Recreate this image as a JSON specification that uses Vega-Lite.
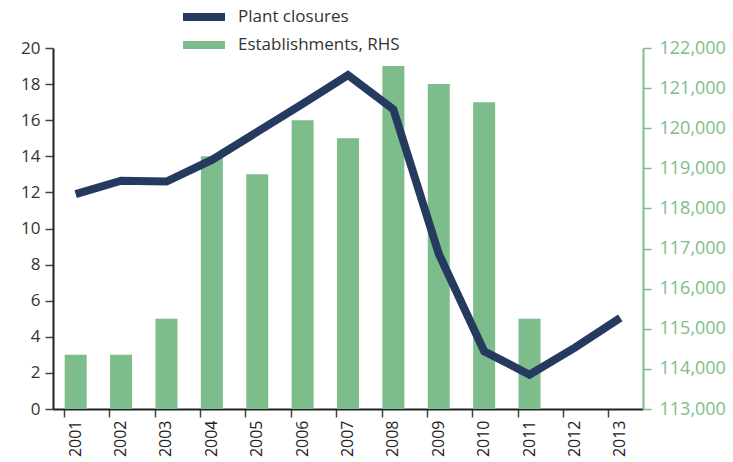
{
  "$schema": "https://vega.github.io/schema/vega-lite/v6.json",
  "width": 590,
  "height": 361,
  "autosize": {"type": "none"},
  "padding": {"left": 53, "top": 48, "right": 90, "bottom": 53},
  "background": "white",
  "config": {
    "view": {"stroke": null},
    "font": "Open Sans",
    "axis": {"grid": false, "labelFont": "Open Sans", "titleFont": "Open Sans"}
  },
  "data": {
    "values": [
      {"year": "2001", "closures": 11.9, "establishments": 114350},
      {"year": "2002", "closures": 12.65, "establishments": 114350},
      {"year": "2003", "closures": 12.6, "establishments": 115250},
      {"year": "2004", "closures": 13.8, "establishments": 119300},
      {"year": "2005", "closures": 15.35, "establishments": 118850},
      {"year": "2006", "closures": 16.9, "establishments": 120200},
      {"year": "2007", "closures": 18.5, "establishments": 119750},
      {"year": "2008", "closures": 16.6, "establishments": 121550},
      {"year": "2009", "closures": 8.6, "establishments": 121100},
      {"year": "2010", "closures": 3.2, "establishments": 120650},
      {"year": "2011", "closures": 1.9, "establishments": 115250},
      {"year": "2012", "closures": 3.4, "establishments": null},
      {"year": "2013", "closures": 5.05, "establishments": null}
    ]
  },
  "encoding": {
    "x": {
      "field": "year",
      "type": "ordinal",
      "scale": {"paddingInner": 0.5, "paddingOuter": 0.25},
      "axis": {
        "title": null,
        "labelAngle": -90,
        "labelAlign": "right",
        "labelBaseline": "middle",
        "labelFontSize": 16,
        "labelColor": "#222222",
        "labelPadding": 3,
        "domainColor": "#222222",
        "domainWidth": 2,
        "tickColor": "#444444",
        "tickWidth": 1.5,
        "tickSize": 8,
        "bandPosition": 0
      }
    }
  },
  "layer": [
    {
      "transform": [{"filter": "datum.establishments != null"}],
      "mark": {"type": "bar", "size": 22},
      "encoding": {
        "y": {
          "field": "establishments",
          "type": "quantitative",
          "scale": {"domain": [113000, 122000], "zero": false, "nice": false},
          "axis": {
            "title": null,
            "orient": "right",
            "values": [113000, 114000, 115000, 116000, 117000, 118000, 119000, 120000, 121000, 122000],
            "format": ",d",
            "labelFontSize": 18,
            "labelColor": "#7dbd8b",
            "domainColor": "#7dbd8b",
            "domainWidth": 2,
            "tickColor": "#7dbd8b",
            "tickWidth": 1.5,
            "tickSize": 8,
            "labelPadding": 8
          }
        },
        "y2": {"datum": 113000},
        "color": {"datum": "Establishments, RHS"}
      }
    },
    {
      "mark": {"type": "line", "strokeWidth": 8, "strokeJoin": "miter"},
      "encoding": {
        "y": {
          "field": "closures",
          "type": "quantitative",
          "scale": {"domain": [0, 20], "nice": false},
          "axis": {
            "title": null,
            "orient": "left",
            "values": [0, 2, 4, 6, 8, 10, 12, 14, 16, 18, 20],
            "labelFontSize": 17,
            "labelColor": "#333333",
            "domainColor": "#222222",
            "domainWidth": 2,
            "tickColor": "#444444",
            "tickWidth": 1.5,
            "tickSize": 8,
            "labelPadding": 5
          }
        },
        "color": {
          "datum": "Plant closures",
          "scale": {
            "domain": ["Plant closures", "Establishments, RHS"],
            "range": ["#263a60", "#7dbd8b"]
          },
          "legend": {
            "title": null,
            "orient": "none",
            "legendX": 137,
            "legendY": -45,
            "symbolType": "M-1.5,-0.29H1.5V0.29H-1.5Z",
            "symbolSize": 784,
            "symbolStrokeWidth": 0,
            "labelFontSize": 17,
            "labelColor": "#333333",
            "labelOffset": 20,
            "labelLimit": 400,
            "rowPadding": 6,
            "encode": {
              "symbols": {
                "update": {
                  "fill": {"scale": "color", "field": "value"},
                  "fillOpacity": {"value": 1},
                  "stroke": {"value": "transparent"}
                }
              }
            }
          }
        }
      }
    }
  ],
  "resolve": {"scale": {"y": "independent"}}
}
